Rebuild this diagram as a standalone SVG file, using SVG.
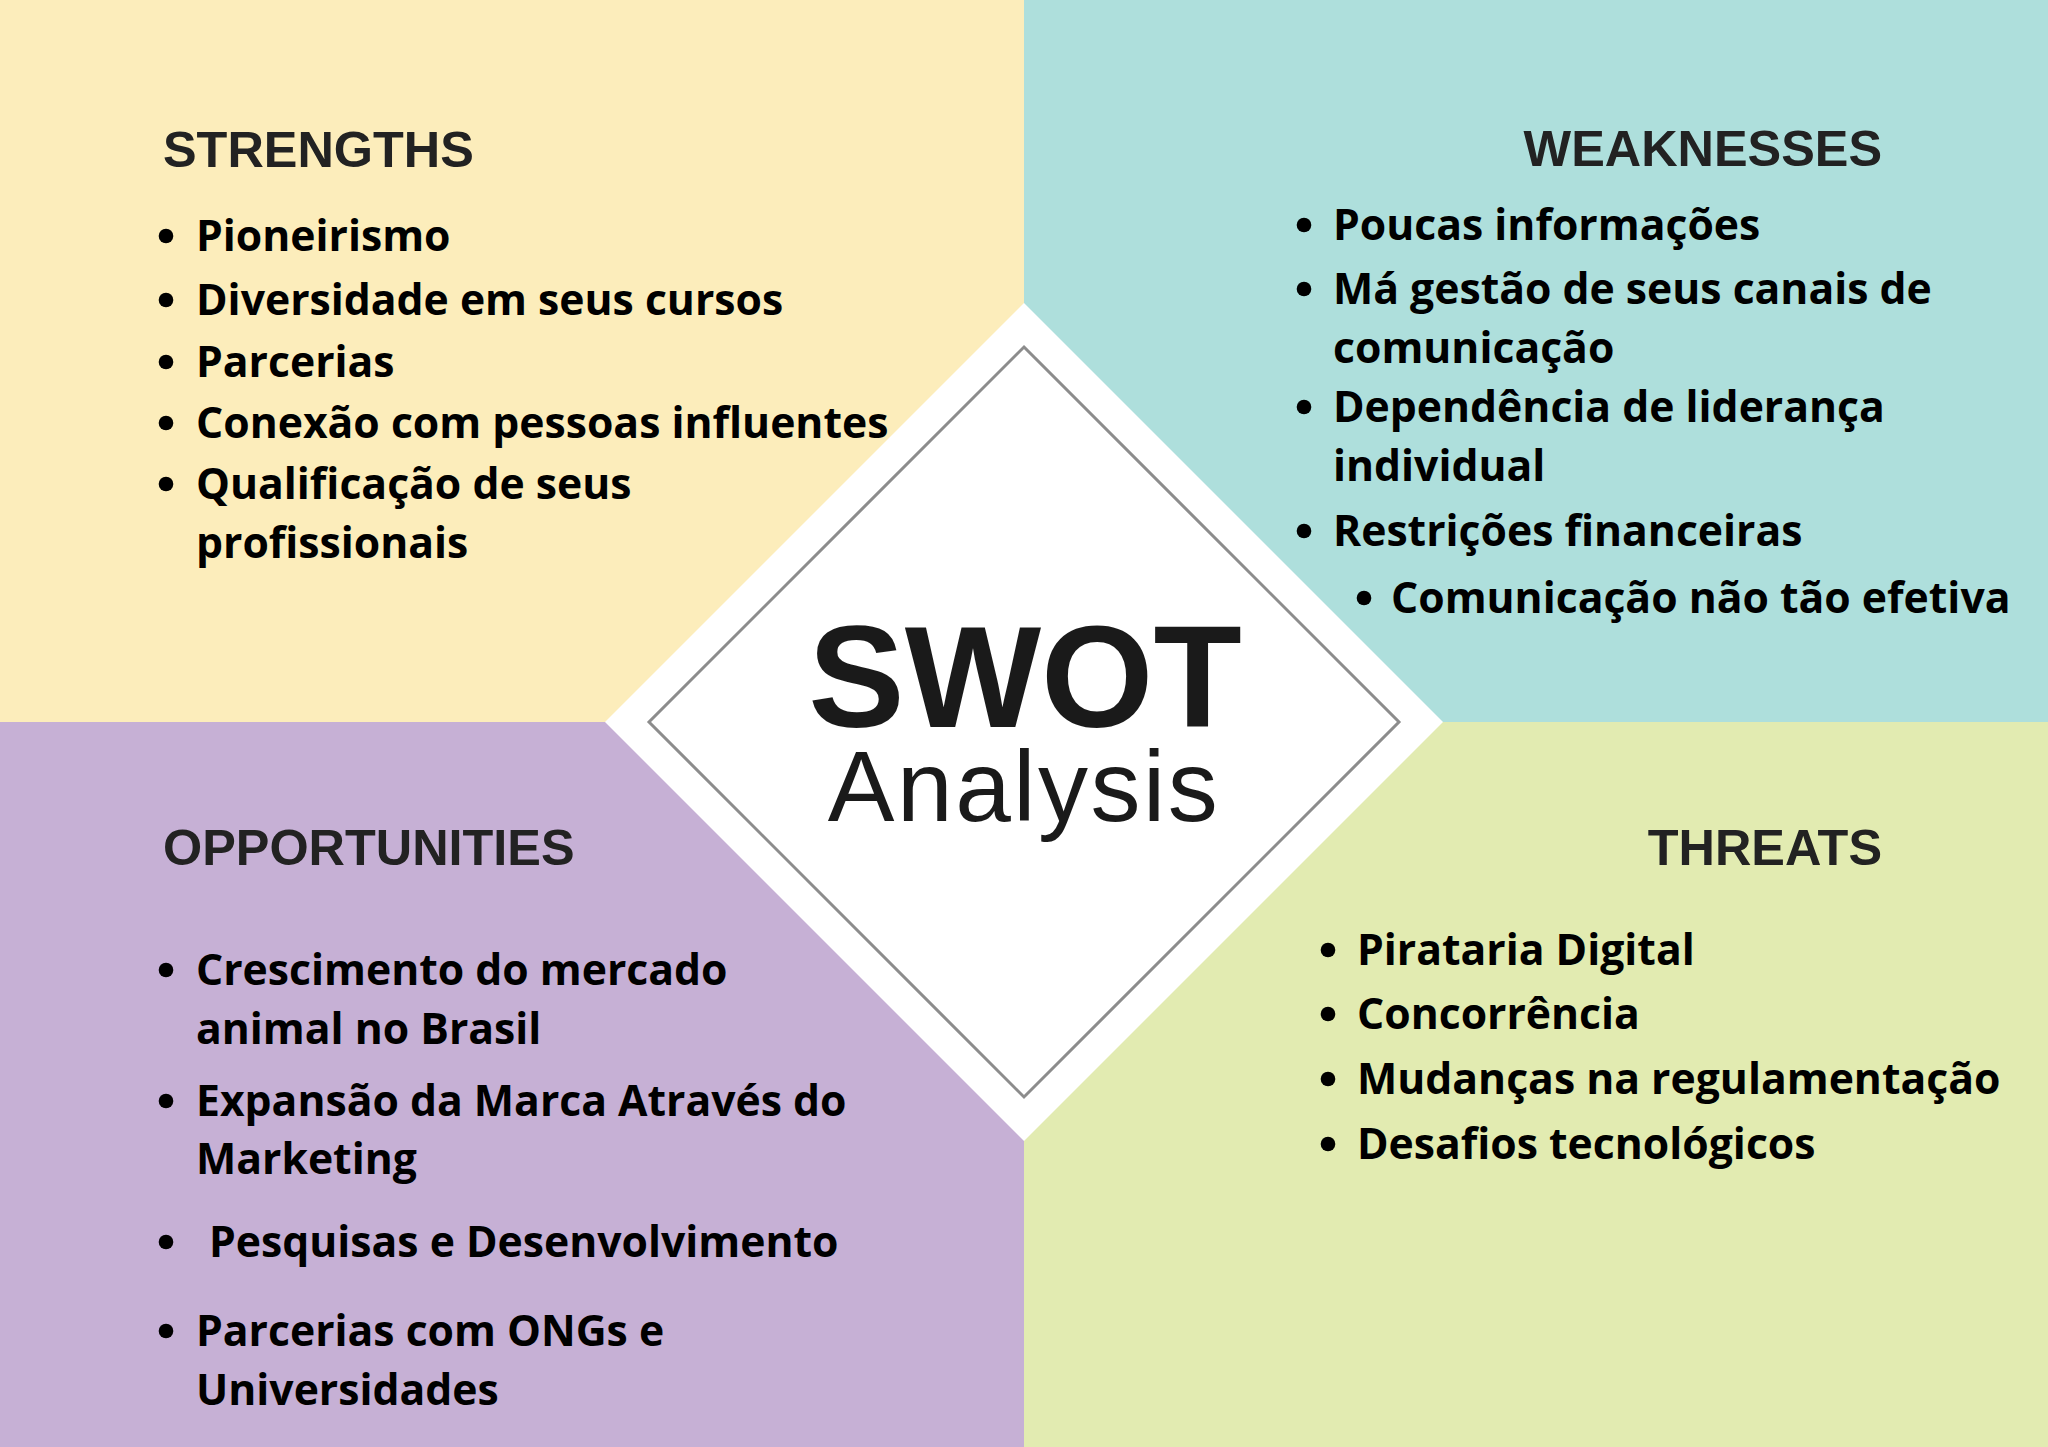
<svg xmlns="http://www.w3.org/2000/svg" width="2048" height="1447" viewBox="0 0 2048 1447">
  <style>
    .head { font-family: "Liberation Sans", Arial, sans-serif; font-weight: 700; font-size: 50.4px; fill: #222222; }
    .item { font-family: "Open Sans", "Liberation Sans", sans-serif; font-weight: 700; font-size: 42.7px; fill: #000000; }
    .dot { fill: #000000; }
    .big { font-family: "Liberation Sans", Arial, sans-serif; font-weight: 700; font-size: 144.5px; fill: #1a1a1a; }
    .sub { font-family: "Liberation Sans", Arial, sans-serif; font-weight: 400; font-size: 100px; fill: #1a1a1a; letter-spacing: 2.5px; }
  </style>
  <g id="backgrounds">
    <rect x="0" y="0" width="1024" height="722" fill="#FCEDBB"/>
    <rect x="1024" y="0" width="1024" height="722" fill="#AEDFDC"/>
    <rect x="0" y="722" width="1024" height="725" fill="#C6B0D5"/>
    <rect x="1024" y="722" width="1024" height="725" fill="#E2EBB1"/>
  </g>
  <g id="connectors"></g>
  <g id="center">
    <polygon points="1024,303 1443,722 1024,1141 605,722" fill="#FFFFFF"/>
    <polygon points="1024,347 1399,722 1024,1097 649,722" fill="none" stroke="#8C8C8C" stroke-width="3"/>
    <text class="big" x="1025" y="727" text-anchor="middle">SWOT</text>
    <text class="sub" x="1024" y="821" text-anchor="middle">Analysis</text>
  </g>
  <g id="strengths">
    <text class="head" x="163" y="167">STRENGTHS</text>
    <circle class="dot" cx="166" cy="236" r="7.3"/>
    <text class="item" x="196" y="251">Pioneirismo</text>
    <circle class="dot" cx="166" cy="300" r="7.3"/>
    <text class="item" x="196" y="315">Diversidade em seus cursos</text>
    <circle class="dot" cx="166" cy="362" r="7.3"/>
    <text class="item" x="196" y="377">Parcerias</text>
    <circle class="dot" cx="166" cy="423" r="7.3"/>
    <text class="item" x="196" y="438">Conexão com pessoas influentes</text>
    <circle class="dot" cx="166" cy="484" r="7.3"/>
    <text class="item" x="196" y="499">Qualificação de seus</text>
    <text class="item" x="196" y="558">profissionais</text>
  </g>
  <g id="weaknesses">
    <text class="head" x="1882" y="166" text-anchor="end">WEAKNESSES</text>
    <circle class="dot" cx="1304" cy="225" r="7.3"/>
    <text class="item" x="1333" y="240">Poucas informações</text>
    <circle class="dot" cx="1304" cy="289" r="7.3"/>
    <text class="item" x="1333" y="304">Má gestão de seus canais de</text>
    <text class="item" x="1333" y="363">comunicação</text>
    <circle class="dot" cx="1304" cy="407" r="7.3"/>
    <text class="item" x="1333" y="422">Dependência de liderança</text>
    <text class="item" x="1333" y="481">individual</text>
    <circle class="dot" cx="1304" cy="531" r="7.3"/>
    <text class="item" x="1333" y="546">Restrições financeiras</text>
    <circle class="dot" cx="1364" cy="598" r="7.3"/>
    <text class="item" x="1391" y="613">Comunicação não tão efetiva</text>
  </g>
  <g id="opportunities">
    <text class="head" x="163" y="865">OPPORTUNITIES</text>
    <circle class="dot" cx="166" cy="970" r="7.3"/>
    <text class="item" x="196" y="985">Crescimento do mercado</text>
    <text class="item" x="196" y="1044">animal no Brasil</text>
    <circle class="dot" cx="166" cy="1101" r="7.3"/>
    <text class="item" x="196" y="1116">Expansão da Marca Através do</text>
    <text class="item" x="196" y="1174">Marketing</text>
    <circle class="dot" cx="166" cy="1242" r="7.3"/>
    <text class="item" x="209" y="1257">Pesquisas e Desenvolvimento</text>
    <circle class="dot" cx="166" cy="1331" r="7.3"/>
    <text class="item" x="196" y="1346">Parcerias com ONGs e</text>
    <text class="item" x="196" y="1405">Universidades</text>
  </g>
  <g id="threats">
    <text class="head" x="1882" y="865" text-anchor="end">THREATS</text>
    <circle class="dot" cx="1328" cy="950" r="7.3"/>
    <text class="item" x="1357" y="965">Pirataria Digital</text>
    <circle class="dot" cx="1328" cy="1014" r="7.3"/>
    <text class="item" x="1357" y="1029">Concorrência</text>
    <circle class="dot" cx="1328" cy="1079" r="7.3"/>
    <text class="item" x="1357" y="1094">Mudanças na regulamentação</text>
    <circle class="dot" cx="1328" cy="1144" r="7.3"/>
    <text class="item" x="1357" y="1159">Desafios tecnológicos</text>
  </g>
</svg>
